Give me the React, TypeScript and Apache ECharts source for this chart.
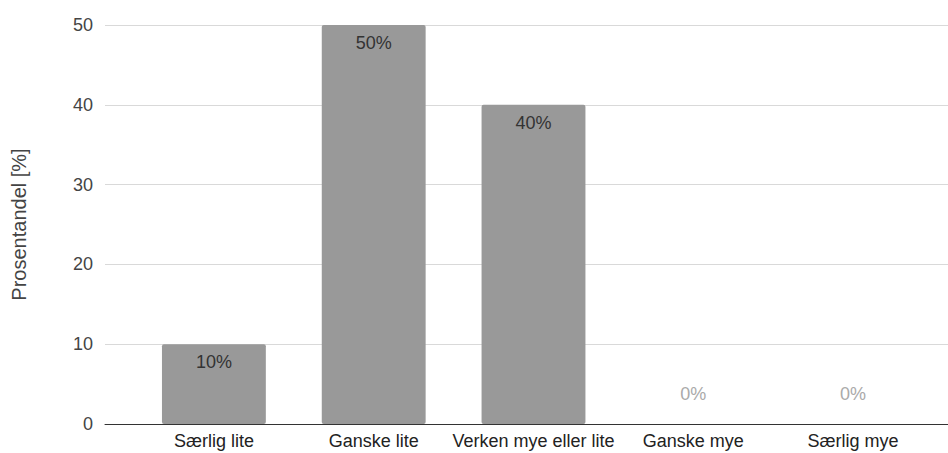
import React, { useEffect, useRef } from "react";
import * as echarts from "echarts";

const categories = ["Særlig lite", "Ganske lite", "Verken mye eller lite", "Ganske mye", "Særlig mye"];
const values = [10, 50, 40, 0, 0];
const yTicks = { min: 0, max: 50, interval: 10 };
const yName = "Prosentandel [%]";

const FONT = "'Liberation Sans', Arial, sans-serif";
const FS = 18;

export default function App() {
  const ref = useRef<HTMLDivElement>(null);

  useEffect(() => {
    if (!ref.current) return;
    const chart = echarts.init(ref.current, undefined, { renderer: "svg" });

    // zero-height bars carry their label above the baseline in a lighter grey
    const barData = values.map((v) =>
      v === 0
        ? { value: v, label: { position: "top", distance: 21, color: "#aaaaaa" } }
        : { value: v }
    );

    chart.setOption({
      animation: false,
      textStyle: { fontFamily: FONT },
      grid: [
        { left: 105, right: 0, top: 25, bottom: 29 },
        { left: 134, right: 15, top: 25, bottom: 29 },
      ],
      xAxis: [
        {
          gridIndex: 0,
          type: "category",
          data: categories,
          axisLine: { show: true, lineStyle: { color: "#333333", width: 1 } },
          axisTick: { show: false },
          axisLabel: { show: false },
          splitLine: { show: false },
        },
        {
          gridIndex: 1,
          type: "category",
          data: categories,
          axisLine: { show: false },
          axisTick: { show: false },
          axisLabel: { color: "#222222", fontSize: FS, margin: 8, interval: 0, fontFamily: FONT },
        },
      ],
      yAxis: [
        {
          gridIndex: 0,
          type: "value",
          min: yTicks.min,
          max: yTicks.max,
          interval: yTicks.interval,
          name: yName,
          nameLocation: "middle",
          nameGap: 76,
          nameTextStyle: { color: "#444444", fontSize: 20, fontFamily: FONT },
          axisLine: { show: false },
          axisTick: { show: false },
          axisLabel: { color: "#444444", fontSize: FS, margin: 12, fontFamily: FONT },
          splitLine: { lineStyle: { color: "#d9d9d9", width: 1 } },
        },
        {
          gridIndex: 1,
          type: "value",
          min: yTicks.min,
          max: yTicks.max,
          interval: yTicks.interval,
          show: false,
          splitLine: { show: false },
        },
      ],
      series: [
        {
          type: "bar",
          xAxisIndex: 1,
          yAxisIndex: 1,
          data: barData,
          barCategoryGap: "35%",
          itemStyle: { color: "#999999", borderRadius: 2 },
          label: {
            show: true,
            position: "insideTop",
            distance: 9,
            formatter: "{c}%",
            color: "#333333",
            fontSize: FS,
            fontFamily: FONT,
          },
        },
      ],
    });

    return () => chart.dispose();
  }, []);

  return (
    <div
      ref={ref}
      style={{ position: "fixed", left: 0, top: 0, width: 948, height: 453, background: "#ffffff" }}
    />
  );
}
